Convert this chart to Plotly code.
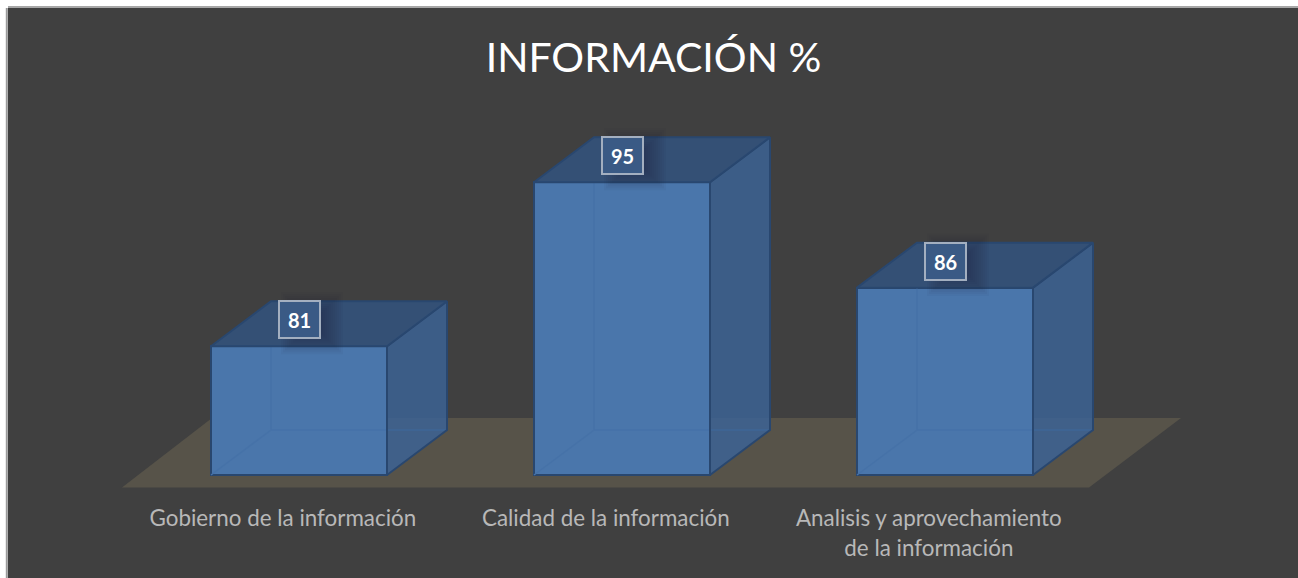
import plotly.graph_objects as go

# ---- data ----
categories = ["Gobierno de la información", "Calidad de la información",
              "Analisis y aprovechamiento<br>de la información"]
values = [81, 95, 86]
title_text = "INFORMACIÓN %"

# ---- layout helpers ----
W, H = 1298, 578
M = 8
BASE = 70
PX_X = 323.0      # px per category step
PX_Y = 11.71      # px per value unit
X0_PX, Y0_PX = 299.0, 475.0
BAR_W = 176 / PX_X
DX = 60 / PX_X
DY = 45 / PX_Y
xr = [(M - X0_PX) / PX_X, (W - X0_PX) / PX_X]
yr = [BASE - (H - Y0_PX) / PX_Y, BASE + (Y0_PX - M) / PX_Y]

BG = "#404040"
EDGE = "#29476f"
FRONT = "#4a76ab"
TOP = "rgba(50,84,127,0.85)"
SIDE = "rgba(60,99,148,0.85)"
INNER = "#4672a8"

fig = go.Figure()

xs = list(range(len(values)))
fig.add_trace(go.Bar(x=xs, y=[v - BASE for v in values], base=BASE, width=BAR_W,
                     marker=dict(color=FRONT, line=dict(color=EDGE, width=2)),
                     showlegend=False, hoverinfo="skip"))

for i, v in zip(xs, values):
    l, r = i - BAR_W / 2, i + BAR_W / 2
    # faint hidden edges seen through the front
    fig.add_trace(go.Scatter(
        x=[l, l + DX, l + DX, None, l + DX, r + DX], y=[BASE, BASE + DY, v, None, BASE + DY, BASE + DY],
        mode="lines", line=dict(color=INNER, width=1.5), showlegend=False, hoverinfo="skip"))
    # side face
    fig.add_trace(go.Scatter(
        x=[r, r + DX, r + DX, r, r], y=[BASE, BASE + DY, v + DY, v, BASE],
        mode="lines", fill="toself", fillcolor=SIDE, line=dict(color=EDGE, width=2),
        showlegend=False, hoverinfo="skip"))
    # top face
    fig.add_trace(go.Scatter(
        x=[l, r, r + DX, l + DX, l], y=[v, v, v + DY, v + DY, v],
        mode="lines", fill="toself", fillcolor=TOP, line=dict(color=EDGE, width=2),
        showlegend=False, hoverinfo="skip"))

shapes = []
# floor
fx = [(p - X0_PX) / PX_X for p in (122, 1089, 1181, 212)]
fy = [BASE - 12.5 / PX_Y, BASE + 57 / PX_Y]
shapes.append(dict(type="path", layer="below", xref="x", yref="y", line_width=0, fillcolor="#575349",
                   path=f"M{fx[0]},{fy[0]} L{fx[1]},{fy[0]} L{fx[2]},{fy[1]} L{fx[3]},{fy[1]} Z"))
# label shadows (soft blur built from layered translucent rects)
for i, v in zip(xs, values):
    for k in range(12):
        hw, hh = (31 - 2.0 * k) / PX_X, (31 - 2.0 * k) / PX_Y
        cx, cy = i + 13 / PX_X, v + 23 / PX_Y
        shapes.append(dict(type="rect", layer="above", xref="x", yref="y", line_width=0,
                           fillcolor="rgba(20,30,50,0.04)",
                           x0=cx - hw, x1=cx + hw, y0=cy - hh, y1=cy + hh))
# outer hairline
shapes.append(dict(type="line", xref="paper", yref="paper", x0=-1.2 / (W - M), x1=-1.2 / (W - M), y0=0, y1=1,
                   line=dict(color="#9a9a9a", width=2)))
shapes.append(dict(type="line", xref="paper", yref="paper", x0=0, x1=1, y0=1 + 1.0 / (H - M), y1=1 + 1.0 / (H - M),
                   line=dict(color="#8a8a8a", width=1.5)))

annotations = [dict(x=i + 0.5 / PX_X, y=v + 26.5 / PX_Y, xref="x", yref="y", text=f"<b>{v}</b>", showarrow=False,
                    font=dict(family="Lato, Carlito, sans-serif", size=20, color="#ffffff"),
                    bgcolor="#3a5a85", bordercolor="#a3afc0", borderwidth=2, width=37, height=33,
                    align="center", valign="middle")
               for i, v in zip(xs, values)]

fig.update_layout(
    width=W, height=H,
    margin=dict(l=M, r=0, t=M, b=0),
    paper_bgcolor="#ffffff", plot_bgcolor=BG,
    showlegend=False, bargap=0,
    title=dict(text=title_text, x=(653.5 - M) / (W - M), xref="paper", xanchor="center",
               y=1 - 58 / H, yref="container", yanchor="middle",
               font=dict(family="Lato, Carlito, sans-serif", size=41, color="#ffffff")),
    xaxis=dict(range=xr, showgrid=False, zeroline=False, showline=False, ticks="",
               tickmode="array", tickvals=[i - 0.05 for i in xs], ticktext=categories, tickangle=0,
               tickfont=dict(family="Lato, Carlito, sans-serif", size=22.4, color="#b8b8b8"),
               anchor="free", position=(H - 503) / (H - M)),
    yaxis=dict(range=yr, showgrid=False, zeroline=False, showline=False, showticklabels=False, ticks=""),
    shapes=shapes, annotations=annotations,
)
fig.write_html("out.html", post_script="document.body.style.margin='0';", config={"displayModeBar": False})
